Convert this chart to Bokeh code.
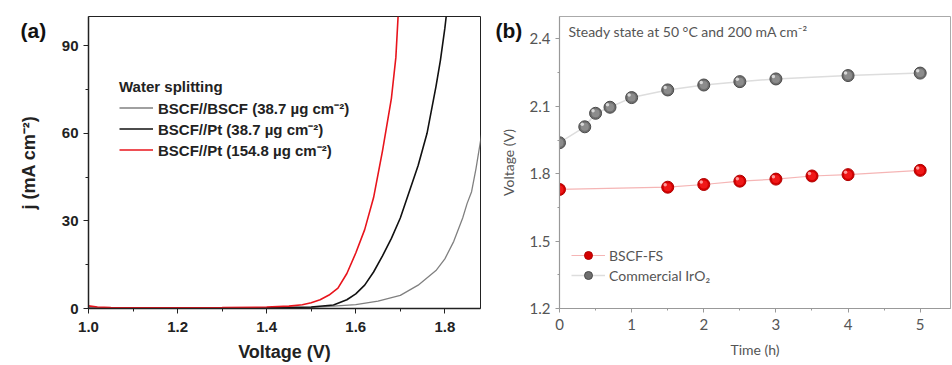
from bokeh.plotting import figure
from bokeh.layouts import row
from bokeh.models import Range1d, Legend, LegendItem, Label, FixedTicker, NumeralTickFormatter
from bokeh.core.properties import value
from bokeh.embed import file_html
from bokeh.resources import INLINE

# ---------------- Panel (a) data ----------------
v_red = [1.00, 1.02, 1.05, 1.10, 1.20, 1.30, 1.40, 1.45, 1.48, 1.50, 1.52, 1.54, 1.56, 1.58,
         1.60, 1.62, 1.64, 1.66, 1.67, 1.68, 1.69, 1.695]
j_red = [0.9, 0.5, 0.3, 0.2, 0.2, 0.3, 0.5, 0.8, 1.3, 2.0, 3.0, 4.6, 7.0, 12,
         19, 27, 38, 54, 63, 72, 86, 100]
v_black = [1.00, 1.20, 1.40, 1.50, 1.55, 1.58, 1.60, 1.62, 1.64, 1.66, 1.68, 1.70, 1.72,
           1.74, 1.76, 1.78, 1.79, 1.80, 1.803]
j_black = [0.1, 0.1, 0.2, 0.5, 1.2, 3, 5, 8, 12.5, 18, 24, 31, 40, 49, 60, 76, 85, 96, 100]
v_gray = [1.00, 1.40, 1.50, 1.55, 1.60, 1.65, 1.70, 1.74, 1.78, 1.80, 1.82, 1.84, 1.85,
          1.86, 1.87, 1.885, 1.89]
j_gray = [0.0, 0.1, 0.4, 0.8, 1.3, 2.5, 4.5, 8, 13, 17, 23, 31, 36, 40, 48, 62, 66]
labels_a = ["BSCF//BSCF (38.7 µg cm⁻²)", "BSCF//Pt (38.7 µg cm⁻²)", "BSCF//Pt (154.8 µg cm⁻²)"]
xticks_a = [1.0, 1.2, 1.4, 1.6, 1.8]
yticks_a = [0, 30, 60, 90]

# ---------------- Panel (b) data ----------------
t_ir = [0, 0.35, 0.5, 0.7, 1, 1.5, 2, 2.5, 3, 4, 5]
u_ir = [1.938, 2.009, 2.069, 2.096, 2.139, 2.173, 2.195, 2.210, 2.222, 2.237, 2.248]
t_fs = [0, 1.5, 2, 2.5, 3, 3.5, 4, 5]
u_fs = [1.730, 1.740, 1.752, 1.767, 1.776, 1.790, 1.796, 1.815]
labels_b = ["BSCF-FS", "Commercial IrO₂"]
xticks_b = [0, 1, 2, 3, 4, 5]
yticks_b = [1.2, 1.5, 1.8, 2.1, 2.4]

BOLD = "Liberation Sans"
XA = (1.0, 1.88)
YA = (0, 100)
XB = (0, 5.42)
YB = (1.2, 2.5)

pa = figure(width=482, height=365, output_backend="svg", toolbar_location=None,
            x_range=Range1d(*XA), y_range=Range1d(*YA),
            min_border_left=88, min_border_right=2, min_border_top=16, min_border_bottom=57)
pa.grid.visible = False
pa.outline_line_color = "#222222"
pa.outline_line_width = 1
for ax in (pa.xaxis[0], pa.yaxis[0]):
    ax.axis_line_width = 1.5
    ax.axis_line_color = "#222222"
    ax.major_tick_line_color = "#222222"
    ax.minor_tick_line_color = "#222222"
    ax.major_tick_in = 0
    ax.major_tick_out = 5
    ax.minor_tick_in = 0
    ax.minor_tick_out = 3
    ax.major_label_text_font = BOLD
    ax.major_label_text_font_style = "bold"
    ax.major_label_text_font_size = "15px"
    ax.major_label_text_color = "#222222"
    ax.axis_label_text_font = BOLD
    ax.axis_label_text_font_style = "bold"
    ax.axis_label_text_font_size = "18px"
    ax.axis_label_text_color = "#222222"
pa.xaxis.ticker = FixedTicker(ticks=xticks_a, minor_ticks=[1.1, 1.3, 1.5, 1.7])
pa.yaxis.ticker = FixedTicker(ticks=yticks_a, minor_ticks=[15, 45, 75])
pa.xaxis.formatter = NumeralTickFormatter(format="0.0")
pa.xaxis.axis_label = "Voltage (V)"
pa.yaxis.axis_label = "j (mA cm⁻²)"
pa.xaxis.major_label_standoff = 8
pa.xaxis.axis_label_standoff = 7
pa.yaxis.axis_label_standoff = 20

rg = pa.line(v_gray, j_gray, line_color="#808080", line_width=1.3)
rb = pa.line(v_black, j_black, line_color="#111111", line_width=1.6)
rr = pa.line(v_red, j_red, line_color="#e8141c", line_width=1.6)

lega = Legend(items=[LegendItem(label=labels_a[0], renderers=[rg]),
                     LegendItem(label=labels_a[1], renderers=[rb]),
                     LegendItem(label=labels_a[2], renderers=[rr])],
              location=(31, 148), title="Water splitting",
              title_text_font=BOLD, title_text_font_style="bold", title_text_font_size="15px",
              label_text_font=BOLD, label_text_font_style="bold", label_text_font_size="15px",
              label_text_color="#222222", title_text_color="#222222",
              glyph_width=34, glyph_height=21, label_height=21, label_standoff=5,
              spacing=0, padding=0, margin=0, border_line_color=None,
              background_fill_alpha=0, title_standoff=2)
pa.add_layout(lega)
# panel tag, anchored at the frame's top-left corner and shifted in pixels
pa.text(x=[XA[0]], y=[YA[1]], text=["(a)"], x_offset=-68, y_offset=14, level="overlay",
        text_font=value(BOLD), text_font_style="bold", text_font_size="21px",
        text_baseline="middle", text_color="#111111")

# ---------------- Panel (b) ----------------
GREY = "#555555"
LIGHT = "Lato"
pb = figure(width=470, height=365, output_backend="svg", toolbar_location=None,
            x_range=Range1d(*XB), y_range=Range1d(*YB),
            min_border_left=77, min_border_right=2, min_border_top=16, min_border_bottom=55)
pb.grid.visible = False
pb.outline_line_color = "#aaaaaa"
for ax in (pb.xaxis[0], pb.yaxis[0]):
    ax.axis_line_color = "#999999"
    ax.axis_line_width = 1.2
    ax.major_tick_line_color = "#999999"
    ax.minor_tick_line_color = "#999999"
    ax.major_tick_in = 0
    ax.major_tick_out = 4
    ax.minor_tick_in = 0
    ax.minor_tick_out = 2
    ax.major_label_text_font = LIGHT
    ax.major_label_text_font_size = "15px"
    ax.major_label_text_color = GREY
    ax.axis_label_text_font = LIGHT
    ax.axis_label_text_font_style = "normal"
    ax.axis_label_text_font_size = "14px"
    ax.axis_label_text_color = GREY
pb.xaxis.ticker = FixedTicker(ticks=xticks_b, minor_ticks=[0.5, 1.5, 2.5, 3.5, 4.5])
pb.yaxis.ticker = FixedTicker(ticks=yticks_b, minor_ticks=[1.35, 1.65, 1.95, 2.25])
pb.yaxis.formatter = NumeralTickFormatter(format="0.0")
pb.xaxis.axis_label = "Time (h)"
pb.yaxis.axis_label = "Voltage (V)"
pb.xaxis.major_label_standoff = 6
pb.xaxis.axis_label_standoff = 8
pb.yaxis.axis_label_standoff = 10

l_ir = pb.line(t_ir, u_ir, line_color="#dddddd", line_width=1.5)
l_fs = pb.line(t_fs, u_fs, line_color="#f5b5b5", line_width=1.2)
s_ir = pb.scatter(t_ir, u_ir, size=12, marker="circle", fill_color="#6e6e6e", line_color="#4a4a4a")
pb.scatter(t_ir, u_ir, size=8, marker="circle", fill_color="#8c8c8c", line_color=None)
pb.scatter([t - 0.035 for t in t_ir], [u + 0.011 for u in u_ir], size=3.5, marker="circle",
           fill_color="#d8d8d8", line_color=None)
s_fs = pb.scatter(t_fs, u_fs, size=12, marker="circle", fill_color="#d40000", line_color="#b00000")
pb.scatter(t_fs, u_fs, size=8, marker="circle", fill_color="#f01818", line_color=None)
pb.scatter([t - 0.035 for t in t_fs], [u + 0.011 for u in u_fs], size=3.5, marker="circle",
           fill_color="#ff9a9a", line_color=None)

legb = Legend(items=[LegendItem(label=labels_b[0], renderers=[l_fs, s_fs]),
                     LegendItem(label=labels_b[1], renderers=[l_ir, s_ir])],
              location=(12, 23), label_text_font=LIGHT, label_text_font_size="14px",
              label_text_color=GREY, glyph_width=34, glyph_height=20, label_height=20,
              label_standoff=4, spacing=0, padding=0, margin=0, border_line_color=None,
              background_fill_alpha=0)
pb.add_layout(legb)
pb.add_layout(Label(x=9, y=277, x_units="screen", y_units="screen",
                    text="Steady state at 50 °C and 200 mA cm⁻²",
                    text_font=LIGHT, text_font_size="14px", text_color=GREY,
                    text_baseline="middle"))
pb.text(x=[XB[0]], y=[YB[1]], text=["(b)"], x_offset=-64, y_offset=14, level="overlay",
        text_font=value(BOLD), text_font_style="bold", text_font_size="21px",
        text_baseline="middle", text_color="#111111")

layout = row(pa, pb)
open("out.html", "w").write(file_html(layout, INLINE))
